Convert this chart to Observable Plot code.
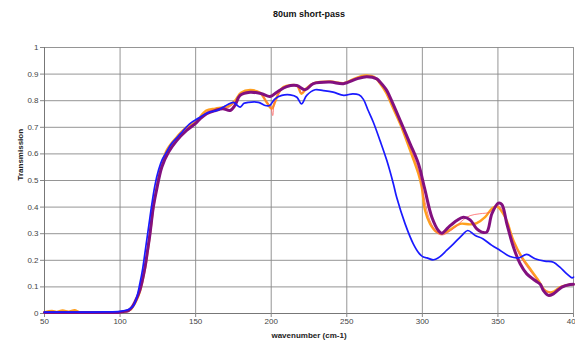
<!DOCTYPE html>
<html>
<head>
<meta charset="utf-8">
<script src="https://cdn.jsdelivr.net/npm/d3@7"></script>
<script src="https://cdn.jsdelivr.net/npm/@observablehq/plot@0.6"></script>
<style>
  html, body { margin: 0; padding: 0; background: #fff; }
  #chart { width: 575px; height: 344px; }
</style>
</head>
<body>
<div id="chart"></div>
<script>
// ---- Data ----
const chartTitle = "80um short-pass";
const xLabel = "wavenumber (cm-1)";
const yLabel = "Transmission";
const xTicks = [50, 100, 150, 200, 250, 300, 350, 400];
const yTicks = [0, 0.1, 0.2, 0.3, 0.4, 0.5, 0.6, 0.7, 0.8, 0.9, 1];

const blueX = [50,70,90,100,104,107,109,111,113,115,117,119,121,123,125.5,128,130,134,140,146,152,158,164,168,171,175,177,179.5,182,185,191.5,196,199,202.5,207,212.5,217,220,223.5,229,234.5,241,248,254,258,261,264,267.5,272,276.5,280.8,283,288.6,294,298,300.7,303,307.3,311.7,316,320.6,326,330,335,340,346,351.5,358,363.6,369,374.6,381,386.7,391,395.6,399,400];
const blueY = [0.005,0.005,0.006,0.008,0.012,0.02,0.03,0.06,0.11,0.17,0.25,0.33,0.41,0.48,0.54,0.58,0.60,0.638,0.676,0.713,0.735,0.755,0.763,0.775,0.785,0.794,0.785,0.776,0.79,0.794,0.794,0.782,0.782,0.807,0.82,0.822,0.813,0.788,0.82,0.841,0.838,0.832,0.82,0.826,0.822,0.805,0.765,0.72,0.65,0.575,0.488,0.437,0.337,0.262,0.225,0.212,0.209,0.202,0.214,0.237,0.262,0.293,0.312,0.293,0.281,0.256,0.237,0.214,0.209,0.222,0.206,0.197,0.193,0.174,0.149,0.134,0.137];

const orangeX = [50,55,58,62,66,70,73,100,104,107,110,113,116.5,119.8,122,124,127,131,137,144,150,157,163,168,172,176,180,186,192.6,197,200.3,202.5,205,208,216.9,220,223,228,239,248,256,262,268,272,276,280,285.3,291.9,297.4,299.6,301.8,305.1,309.5,312.9,318.4,325,331.6,336,341.5,346,349.3,354.8,360.3,365.8,371.3,376.8,381.3,385.7,391.2,397,400];
const orangeY = [0.005,0.01,0.006,0.011,0.007,0.012,0.005,0.005,0.008,0.015,0.04,0.08,0.17,0.30,0.40,0.47,0.55,0.615,0.66,0.70,0.72,0.763,0.77,0.775,0.78,0.80,0.83,0.84,0.83,0.794,0.77,0.795,0.83,0.851,0.857,0.826,0.845,0.865,0.872,0.866,0.885,0.895,0.89,0.865,0.83,0.78,0.713,0.613,0.525,0.475,0.387,0.337,0.306,0.30,0.315,0.337,0.335,0.34,0.362,0.394,0.402,0.362,0.274,0.212,0.168,0.124,0.086,0.08,0.099,0.108,0.11];

const pinkX = [50,100,104,107,110,113,116.5,119.8,122,124,127,131,137,144,150,157,163,168,172,176,180,186,192.6,197,199.5,201,202,205,208,216.9,220,223,228,239,248,256,262,268,272,276,280,285.3,291.9,297.4,301,305,309.5,312.9,318.4,322.8,327,331.6,338,344.8,348,350.5,354.8,360.3,365.8,371.3,376.8,381,385.7,391,397,400];
const pinkY = [0.005,0.005,0.008,0.015,0.042,0.083,0.172,0.30,0.40,0.465,0.55,0.61,0.655,0.695,0.717,0.757,0.767,0.772,0.775,0.795,0.825,0.835,0.828,0.795,0.78,0.744,0.79,0.825,0.85,0.857,0.83,0.845,0.865,0.871,0.865,0.884,0.892,0.888,0.868,0.835,0.785,0.72,0.625,0.54,0.44,0.35,0.305,0.295,0.31,0.33,0.352,0.368,0.375,0.381,0.40,0.405,0.365,0.27,0.205,0.16,0.12,0.09,0.075,0.098,0.108,0.11];

const purpleX = [50,80,100,103,105.5,108,110,113,116.5,118,119.8,122,124,127.6,132,137.5,144,150,153,157.3,163,168,172.8,176,179.4,186,193.7,199.2,203.7,210.3,216.9,222.4,227.9,239,247.8,256.6,263.2,269.9,272,276.5,278.6,285.3,291.9,297.4,301.5,306.3,310.6,312.9,317.2,322.8,327.2,331.6,336,339.3,342.6,346,350.3,352.6,355.9,360.3,364.7,369.1,374.6,378,380.1,383.4,386.7,392.3,397.8,400];
const purpleY = [0.004,0.004,0.005,0.008,0.011,0.025,0.045,0.086,0.174,0.23,0.30,0.40,0.46,0.55,0.606,0.65,0.688,0.715,0.732,0.751,0.763,0.77,0.763,0.782,0.82,0.832,0.826,0.816,0.832,0.853,0.857,0.841,0.864,0.870,0.864,0.882,0.89,0.882,0.87,0.838,0.813,0.726,0.638,0.563,0.47,0.362,0.312,0.302,0.324,0.35,0.362,0.352,0.318,0.306,0.306,0.375,0.415,0.41,0.337,0.249,0.187,0.149,0.124,0.11,0.086,0.068,0.074,0.099,0.109,0.11];

const toRows = (xs, ys) => xs.map((x, i) => ({x, y: ys[i]}));
const blue = toRows(blueX, blueY);
const orange = toRows(orangeX, orangeY);
const pink = toRows(pinkX, pinkY);
const purple = toRows(purpleX, purpleY);

const font = "'Liberation Sans', Arial, sans-serif";

const chart = Plot.plot({
  width: 575,
  height: 344,
  marginLeft: 44,
  marginRight: 2,
  marginTop: 47,
  marginBottom: 31,
  style: {fontFamily: font, fontSize: "8px", color: "#333", background: "#fff", overflow: "visible"},
  x: {domain: [50, 400]},
  y: {domain: [0, 1]},
  marks: [
    Plot.gridX(xTicks, {stroke: "#8a8a8a", strokeOpacity: 0.9}),
    Plot.gridY(yTicks, {stroke: "#8a8a8a", strokeOpacity: 0.9}),
    Plot.ruleX([50], {stroke: "#777"}),
    Plot.ruleY([0], {stroke: "#777"}),
    Plot.axisX({ticks: xTicks, tickSize: 4, tickPadding: 1, label: null, stroke: "#888", fill: "#444"}),
    Plot.axisY({ticks: yTicks, tickSize: 4, tickPadding: 2, label: null, stroke: "#888", fill: "#444", tickFormat: d => String(d)}),
    Plot.line(orange, {x: "x", y: "y", stroke: "#ffa01e", strokeWidth: 2.4, curve: "catmull-rom"}),
    Plot.line(pink, {x: "x", y: "y", stroke: "#ff5a5a", strokeOpacity: 0.75, strokeWidth: 1, curve: "catmull-rom"}),
    Plot.line(purple, {x: "x", y: "y", stroke: "#82107f", strokeWidth: 3, curve: "catmull-rom"}),
    Plot.line(blue, {x: "x", y: "y", stroke: "#1a1aff", strokeWidth: 1.7, curve: "catmull-rom"}),
    Plot.text([chartTitle], {frameAnchor: "top", dy: -37, fontWeight: "bold", fontSize: 9, fill: "#111"}),
    Plot.text([xLabel], {frameAnchor: "bottom", dy: 24, fontWeight: "bold", fontSize: 8, fill: "#222"}),
    Plot.text([yLabel], {frameAnchor: "left", dx: -24, rotate: -90, fontWeight: "bold", fontSize: 8, fill: "#222"})
  ]
});
document.getElementById("chart").appendChild(chart);
</script>
</body>
</html>
